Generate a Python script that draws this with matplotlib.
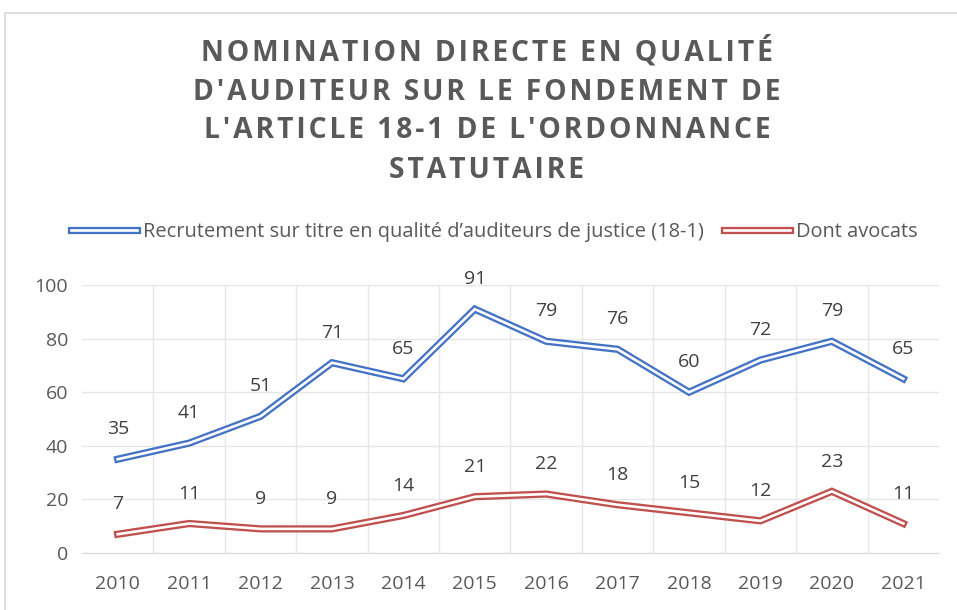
import matplotlib.pyplot as plt
import matplotlib.patheffects as pe
from matplotlib.patches import Rectangle

years = ["2010", "2011", "2012", "2013", "2014", "2015", "2016",
         "2017", "2018", "2019", "2020", "2021"]
recrutement = [35, 41, 51, 71, 65, 91, 79, 76, 60, 72, 79, 65]
avocats = [7, 11, 9, 9, 14, 21, 22, 18, 15, 12, 23, 11]

title_lines = ["NOMINATION DIRECTE EN QUALITÉ",
               "D'AUDITEUR SUR LE FONDEMENT DE",
               "L'ARTICLE 18-1 DE L'ORDONNANCE",
               "STATUTAIRE"]
legend_labels = ["Recrutement sur titre en qualité d’auditeurs de justice (18-1)",
                 "Dont avocats"]

plt.rcParams['font.family'] = ['Open Sans', 'DejaVu Sans']

W, H = 957, 610
fig = plt.figure(figsize=(W / 100, H / 100), dpi=100)

# chart border (Excel chart area)
fig.patches.append(Rectangle((5 / W, -0.1), 1.1, 1 - 13 / H + 0.1,
                             transform=fig.transFigure, fill=False,
                             edgecolor="#d9d9d9", linewidth=1.2))

ax = fig.add_axes([82 / W, 1 - 553 / H, (939 - 82) / W, (553 - 285) / H])

x = list(range(len(years)))


def double_line(vals, color):
    # compound line: thick coloured stroke with a thin white stroke on top
    line, = ax.plot(x, vals, color=color, linewidth=5.2, solid_joinstyle="miter",
                    path_effects=[pe.Stroke(linewidth=5.2, foreground=color),
                                  pe.Stroke(linewidth=1.9, foreground="white")],
                    zorder=3)
    return line


l1 = double_line(recrutement, "#4472C4")
l2 = double_line(avocats, "#C0504D")

for xi, v in zip(x, recrutement):
    ax.annotate(str(v), (xi, v), xytext=(0, 15), textcoords="offset points",
                ha="center", va="bottom", fontsize=14, color="#404040")
for xi, v in zip(x, avocats):
    ax.annotate(str(v), (xi, v), xytext=(0, 15), textcoords="offset points",
                ha="center", va="bottom", fontsize=14, color="#404040")

ax.set_xlim(-0.5, len(years) - 0.5)
ax.set_ylim(0, 100)
ax.set_yticks([0, 20, 40, 60, 80, 100])
ax.set_xticks(x)
ax.set_xticklabels(years)
ax.set_xticks([i + 0.5 for i in x[:-1]], minor=True)
ax.grid(axis="y", color="#e6e6e6", linewidth=1)
ax.grid(axis="x", which="minor", color="#e6e6e6", linewidth=1)
ax.tick_params(axis="both", which="both", length=0, labelsize=14,
               labelcolor="#595959")
ax.tick_params(axis="x", pad=16)
ax.tick_params(axis="y", pad=10)
for s in ["top", "right", "left"]:
    ax.spines[s].set_visible(False)
ax.spines["bottom"].set_color("#d9d9d9")
ax.set_axisbelow(True)

# title with letter spacing
title_y = [52, 92, 131, 170]
for line, yy in zip(title_lines, title_y):
    spaced = "\u200a".join(line)
    fig.text(487 / W, 1 - yy / H, spaced, ha="center", va="center",
             fontsize=20.3, fontweight="bold", color="#595959")

fig.legend([l1, l2], legend_labels, loc="center", bbox_to_anchor=(494 / W, 1 - 232 / H),
           ncol=2, frameon=False, fontsize=14.4, labelcolor="#595959",
           handlelength=3.3, handletextpad=0.3, columnspacing=1.0)

fig.savefig("out.png", dpi=100)
